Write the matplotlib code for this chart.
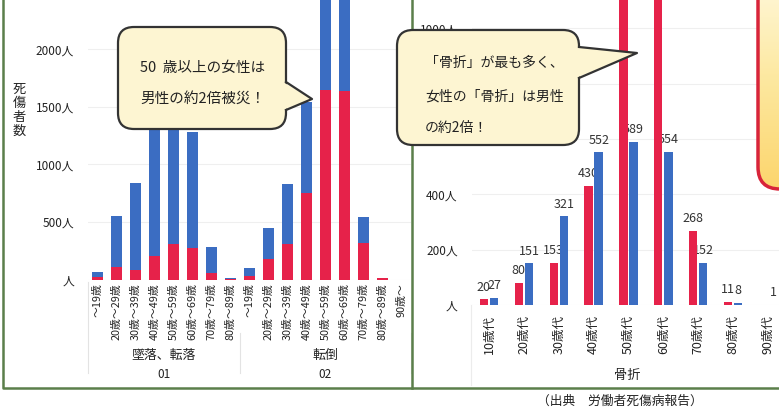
"""
Two-panel bar chart: occupational injuries by age (fall / tumble, stacked)
and fractures by age and sex (grouped).
"""

import matplotlib
matplotlib.use("Agg")
import matplotlib.pyplot as plt
import numpy as np
from matplotlib.colors import LinearSegmentedColormap
from matplotlib.patches import FancyBboxPatch, Polygon

plt.rcParams["font.family"] = ["Noto Sans CJK JP", "DejaVu Sans"]

RED = "#e6224a"
BLUE = "#3b6dc2"
TXT = "#222222"
GREEN = "#5b7f4a"

# ---- left panel data (stacked: female bottom, male top) ----
age_fall = ["～19歳", "20歳～29歳", "30歳～39歳", "40歳～49歳", "50歳～59歳",
            "60歳～69歳", "70歳～79歳", "80歳～89歳"]
age_tumble = ["～19歳", "20歳～29歳", "30歳～39歳", "40歳～49歳", "50歳～59歳",
              "60歳～69歳", "70歳～79歳", "80歳～89歳", "90歳～"]
fall_female = [22, 111, 83, 204, 309, 271, 54, 3]
fall_male = [43, 441, 759, 1296, 1141, 1014, 231, 7]
tumble_female = [30, 175, 309, 750, 1650, 1640, 320, 12, 0]
tumble_male = [67, 275, 519, 796, 1250, 1210, 226, 3, 0]
left_yticks = [0, 500, 1000, 1500, 2000]
left_ylabels = ["人", "500人", "1000人", "1500人", "2000人"]

# ---- right panel data (fracture, grouped) ----
decades = ["10歳代", "20歳代", "30歳代", "40歳代", "50歳代",
           "60歳代", "70歳代", "80歳代", "90歳代"]
frac_female = [20, 80, 153, 430, 1180, 1150, 268, 11, 0]
frac_male = [27, 151, 321, 552, 589, 554, 152, 8, 1]
right_yticks = [0, 200, 400, 600, 800, 1000]
# 600 and 800 sit behind the speech bubble in the original
right_ylabels = ["人", "200人", "400人", "", "", "1000人"]

W, H = 779, 412


def px_rect(x0, x1, y_top, y_bot):
    return [x0 / W, (H - y_bot) / H, (x1 - x0) / W, (y_bot - y_top) / H]


def bubble(ax, x0, y0, w, h, base, tip, fc="#fdf5d2", ec="#333333"):
    box = FancyBboxPatch((x0, y0), w, h, boxstyle="round,pad=0,rounding_size=16",
                         fc=fc, ec=ec, lw=1.6, zorder=6)
    ax.add_patch(box)
    (bx0, by0), (bx1, by1) = base
    ax.add_patch(Polygon([(bx0 - 3, by0), tip, (bx1 - 3, by1)], closed=True,
                         fc=fc, ec="none", zorder=7))
    ax.plot([bx0, tip[0], bx1], [by0, tip[1], by1], color=ec, lw=1.6, zorder=8)


fig = plt.figure(figsize=(W / 100, H / 100), dpi=100)

# ---- left panel ----
ax1 = fig.add_axes(px_rect(88, 411, 0, 279.5))
x1 = np.arange(len(age_fall) + len(age_tumble))
female = fall_female + tumble_female
male = fall_male + tumble_male
ax1.bar(x1, female, width=0.63, color=RED, zorder=3)
ax1.bar(x1, male, bottom=female, width=0.63, color=BLUE, zorder=3)
ax1.set_xlim(-0.5, len(x1) - 0.5)
ax1.set_ylim(0, 2430)
ax1.set_xticks(x1, age_fall + age_tumble, rotation=90, fontsize=7.8, color=TXT)
ax1.set_yticks(left_yticks, left_ylabels, fontsize=8.5, color=TXT)
ax1.tick_params(axis="x", length=0, pad=2.5)
ax1.tick_params(axis="y", length=0, pad=10)
ax1.yaxis.grid(True, color="#efefef", lw=0.8)
ax1.set_axisbelow(True)
for s in ax1.spines.values():
    s.set_visible(False)

# ---- right panel ----
ax2 = fig.add_axes(px_rect(471.6, 785.3, 0, 305))
x2 = np.arange(len(decades))
off, bw = 0.145, 0.24
ax2.bar(x2 - off, frac_female, width=bw, color=RED, zorder=3)
ax2.bar(x2 + off, frac_male, width=bw, color=BLUE, zorder=3)
for xs, vals in [(x2 - off, frac_female), (x2 + off, frac_male)]:
    for xi, v in zip(xs, vals):
        if v == 0:
            continue
        ax2.annotate(str(v), (xi, v), xytext=(0, 4), textcoords="offset points",
                     ha="center", va="bottom", fontsize=9, color="#333333", zorder=1)
ax2.set_xlim(-0.5, len(x2) - 0.5)
ax2.set_ylim(0, 1102)
ax2.set_xticks(x2, decades, rotation=90, fontsize=9, color=TXT)
ax2.set_yticks(right_yticks, right_ylabels, fontsize=8.5, color=TXT)
ax2.tick_params(axis="x", length=0, pad=7)
ax2.tick_params(axis="y", length=0, pad=10)
ax2.yaxis.grid(True, color="#efefef", lw=0.8)
ax2.set_axisbelow(True)
for s in ax2.spines.values():
    s.set_visible(False)

# ---- overlay in pixel coordinates ----
ov = fig.add_axes([0, 0, 1, 1])
ov.set_xlim(0, W)
ov.set_ylim(H, 0)
ov.set_autoscale_on(False)
ov.axis("off")
ov.set_zorder(10)

# frame lines
ov.plot([3, 3, W], [0, 388, 388], color=GREEN, lw=1.8, zorder=2)
ov.plot([412, 412], [0, 388], color=GREEN, lw=1.8, zorder=2)

# multi-level category axis of the left panel
for xv, yv0 in [(88, 282), (240, 333), (411, 333)]:
    ov.plot([xv, xv], [yv0, 373], color="#e3e3e3", lw=0.8, zorder=1)
ov.plot([471, 471], [305, 385], color="#ececec", lw=0.8, zorder=1)
ov.text(164, 355, "墜落、転落", ha="center", va="center", fontsize=9.3, color=TXT)
ov.text(325, 355, "転倒", ha="center", va="center", fontsize=9.3, color=TXT)
ov.text(164, 374, "01", ha="center", va="center", fontsize=8.5, color=TXT)
ov.text(325, 374, "02", ha="center", va="center", fontsize=8.5, color=TXT)
ov.text(627, 375, "骨折", ha="center", va="center", fontsize=9.5, color=TXT)

# vertical axis title
for ch, yc in zip("死傷者数", [89, 103, 117, 131]):
    ov.text(19, yc, ch, ha="center", va="center", fontsize=9.5, color=TXT)

# speech bubbles
bubble(ov, 118, 27, 168, 102, [(286, 82), (286, 110)], (312, 99))
ov.text(140, 68, "50  歳以上の女性は", ha="left", va="center", fontsize=10.5,
        color=TXT, zorder=9)
ov.text(140, 99, "男性の約2倍被災！", ha="left", va="center", fontsize=10.5,
        color=TXT, zorder=9)

bubble(ov, 397, 30, 182, 115, [(579, 47), (579, 78)], (637, 53))
for line, yc in zip(["「骨折」が最も多く、", "女性の「骨折」は男性", "の約2倍！"],
                    [63, 97, 128]):
    ov.text(425, yc, line, ha="left", va="center", fontsize=10, color=TXT, zorder=9)

# partial bubble at the right edge with a vertical gradient
box3 = FancyBboxPatch((758, -40), 70, 229, boxstyle="round,pad=0,rounding_size=22",
                      fc="none", ec="#d8243a", lw=2.5, zorder=4)
ov.add_patch(box3)
cmap = LinearSegmentedColormap.from_list("g", ["#fffbe6", "#fde9a2", "#fcd56c"])
grad = np.linspace(0, 1, 256).reshape(-1, 1)
im = ov.imshow(grad, extent=(755, 830, -40, 190), origin="lower", cmap=cmap,
               aspect="auto", zorder=3)
im.set_clip_path(box3)
ov.set_xlim(0, W)
ov.set_ylim(H, 0)

# source note
ov.text(620, 401, "（出典　労働者死傷病報告）", ha="center", va="center",
        fontsize=9.2, color=TXT)

fig.savefig("out.png", dpi=100)
